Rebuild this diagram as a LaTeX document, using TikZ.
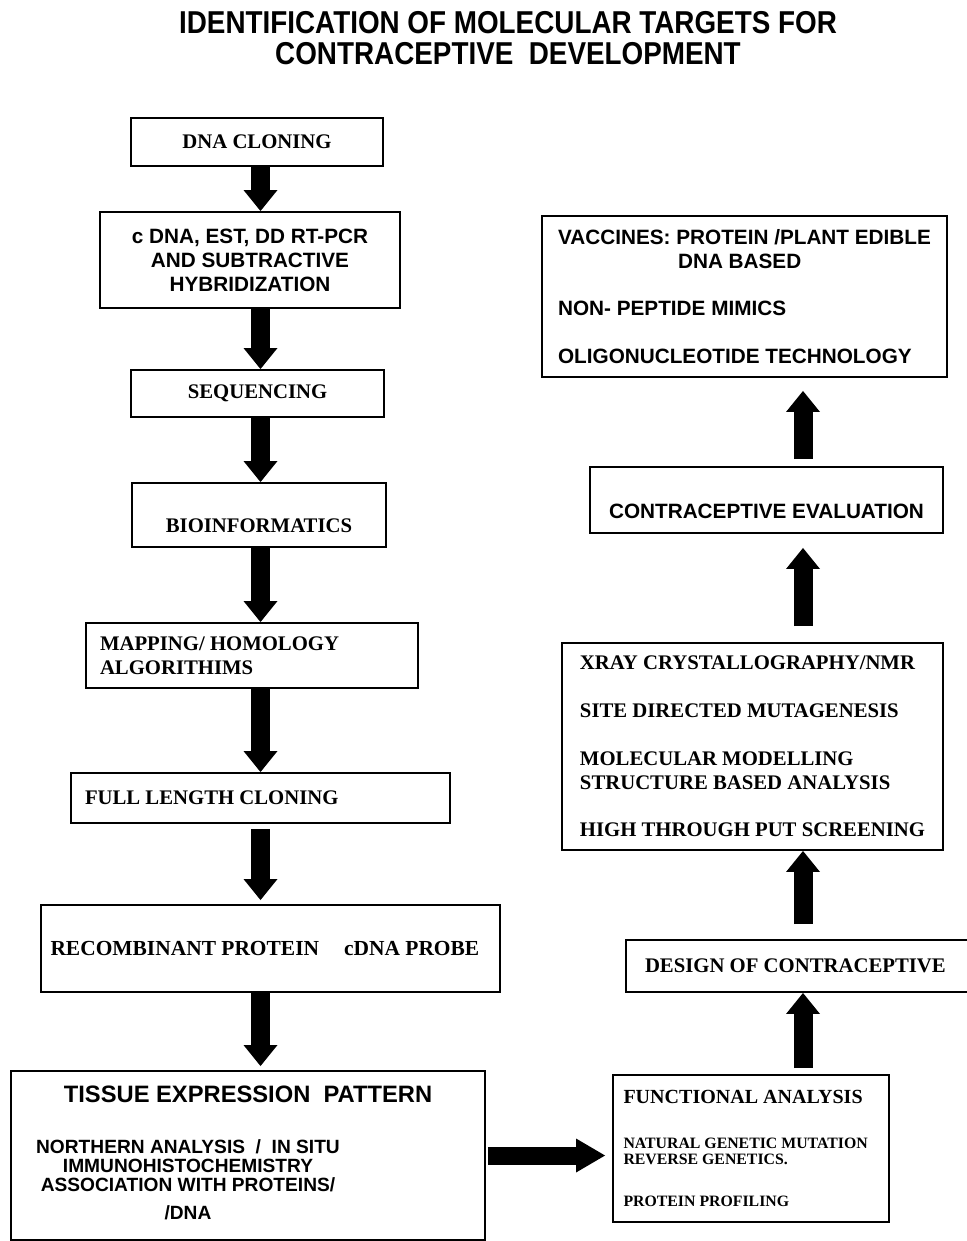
\documentclass[tikz,border=0pt]{standalone}
\usepackage{fontspec}
\setmainfont{Liberation Serif}
\setsansfont{Liberation Sans}
\newfontfamily\narrowsans[FakeStretch=0.88]{Liberation Sans}
\usetikzlibrary{arrows.meta}

\tikzset{
  box/.style={draw, line width=1.1pt, inner sep=0pt},
  times/.style={font=\rmfamily\bfseries\fontsize{11.8}{13.6}\selectfont},
  arial/.style={font=\sffamily\bfseries\fontsize{11.8}{13.6}\selectfont},
  flow/.style={line width=0.38cm, -{Triangle[width=0.68cm, length=0.42cm, line width=0pt]}}
}

\begin{document}
\begin{tikzpicture}
\useasboundingbox (0,0) rectangle (19.34,-24.82);

\node[font=\narrowsans\bfseries\fontsize{18}{18}\selectfont, align=center] (title) at (10.16,-0.76)
  {IDENTIFICATION OF MOLECULAR TARGETS FOR\\CONTRACEPTIVE\ \ DEVELOPMENT};

\node[box, times, minimum width=5.04cm, minimum height=0.96cm] (dna) at (5.14,-2.84) {DNA CLONING};
\node[box, arial, align=center, minimum width=6cm, minimum height=1.92cm] (cdna) at (5.00,-5.20)
  {c DNA, EST, DD RT-PCR\\AND SUBTRACTIVE\\HYBRIDIZATION};
\node[box, times, minimum width=5.06cm, minimum height=0.94cm] (seq) at (5.15,-7.87) {SEQUENCING};
\node[box, times, text height=0.68cm, text depth=0pt, minimum width=5.08cm, minimum height=1.28cm] (bio) at (5.18,-10.30) {BIOINFORMATICS};
\node[box, times, align=flush left, text width=6.08cm, minimum width=6.64cm, minimum height=1.30cm] (map) at (5.04,-13.11)
  {MAPPING/ HOMOLOGY\\ALGORITHIMS};
\node[box, times, align=flush left, text width=7.02cm, minimum width=7.58cm, minimum height=1.00cm] (full) at (5.21,-15.96) {FULL LENGTH CLONING};
\node[box, font=\rmfamily\bfseries\fontsize{12.2}{14}\selectfont, align=flush left, text width=8.8cm, minimum width=9.18cm, minimum height=1.74cm] (rec) at (5.41,-18.97)
  {RECOMBINANT PROTEIN\hspace{0.5cm}cDNA PROBE};
\node[box, align=center, minimum width=9.48cm, minimum height=3.38cm] (tissue) at (4.96,-23.11)
  {{\sffamily\bfseries\fontsize{13.5}{16}\selectfont TISSUE EXPRESSION\ \ PATTERN}\\[20pt]
   \sffamily\bfseries\fontsize{10.9}{10}\selectfont
   \begin{tabular}{@{}c@{}}NORTHERN ANALYSIS\ \ /\ \ IN SITU\\IMMUNOHISTOCHEMISTRY\\ASSOCIATION WITH PROTEINS/\\[5pt]/DNA\end{tabular}\hspace*{2.4cm}};

\node[box, times, align=flush left, text width=5.1cm, minimum width=5.52cm, minimum height=2.94cm] (func) at (15.02,-22.97)
  {{\fontsize{11.4}{13}\selectfont FUNCTIONAL ANALYSIS}\\[15.9pt]
   \fontsize{9}{9.6}\selectfont NATURAL GENETIC MUTATION\\REVERSE GENETICS.\\[10.2pt]PROTEIN PROFILING};
\node[box, times, align=flush left, text width=6.32cm, minimum width=7.08cm, minimum height=1.04cm] (design) at (16.06,-19.32) {DESIGN OF CONTRACEPTIVE};
\node[box, times, align=left, minimum width=7.62cm, minimum height=4.14cm] (xray) at (15.05,-14.93)
  {XRAY CRYSTALLOGRAPHY/NMR\\[13.6pt]SITE DIRECTED MUTAGENESIS\\[13.6pt]MOLECULAR MODELLING\\STRUCTURE BASED ANALYSIS\\[13.6pt]HIGH THROUGH PUT SCREENING};
\node[box, arial, text height=0.74cm, text depth=0pt, minimum width=7.06cm, minimum height=1.32cm] (eval) at (15.33,-10.00) {CONTRACEPTIVE EVALUATION};
\node[box, arial, align=left, minimum width=8.1cm, minimum height=3.22cm] (vac) at (14.89,-5.93)
  {VACCINES: PROTEIN /PLANT EDIBLE\\\hspace*{2.4cm}DNA BASED\\[13.6pt]NON- PEPTIDE MIMICS\\[13.6pt]OLIGONUCLEOTIDE TECHNOLOGY};

\draw[flow] (dna.south -| full.north) -- (cdna.north -| full.north);
\draw[flow] (cdna.south -| full.north) -- (seq.north -| full.north);
\draw[flow] (seq.south -| full.north) -- (bio.north -| full.north);
\draw[flow] (bio.south -| full.north) -- (map.north -| full.north);
\draw[flow] (map.south -| full.north) -- (full.north);
\draw[flow, shorten <=0.1cm, shorten >=0.08cm] (full.south) -- (rec.north -| full.south);
\draw[flow, shorten >=0.08cm] (rec.south -| full.south) -- (tissue.north -| full.south);
\draw[flow, line width=0.36cm, -{Triangle[width=0.68cm, length=0.58cm, line width=0pt]}, shorten <=0.04cm, shorten >=0.14cm] (tissue.east) -- (tissue.east -| func.west);
\draw[flow, shorten <=0.12cm] (func.north -| design.north) -- (design.south);
\draw[flow, shorten <=0.3cm] (design.north) -- (xray.south -| design.north);
\draw[flow, shorten <=0.32cm, shorten >=0.28cm] (xray.north -| design.north) -- (eval.south -| design.north);
\draw[flow, shorten <=0.14cm, shorten >=0.26cm] (eval.north -| design.north) -- (vac.south -| design.north);
\end{tikzpicture}
\end{document}
